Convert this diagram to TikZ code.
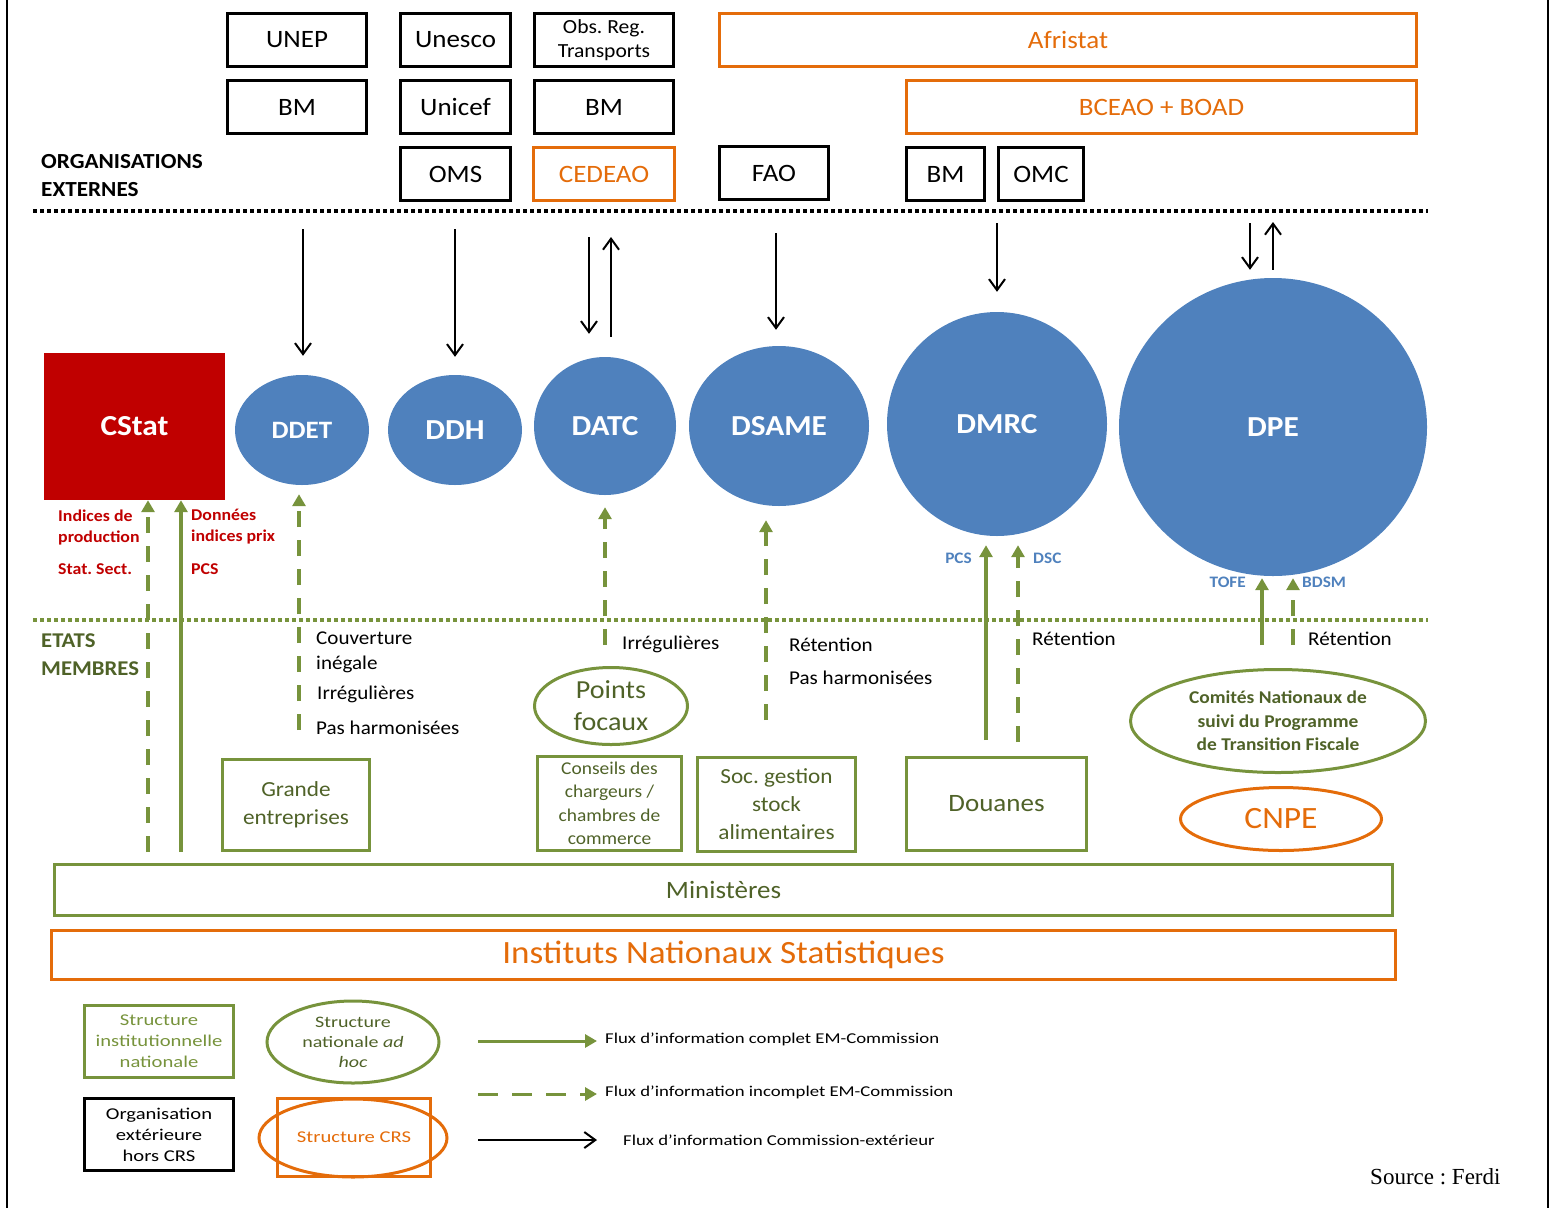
\documentclass[tikz,border=0pt]{standalone}
\usepackage{fontspec}
\setmainfont{Carlito}[FakeStretch=1.08]
\newfontfamily\legfont{Carlito}[FakeStretch=1.25]
\newfontfamily\sourcefont{Liberation Serif}
\usepackage{tikz}
\usetikzlibrary{shapes,arrows.meta,positioning,calc}
\definecolor{bleu}{HTML}{4F81BD}
\definecolor{rouge}{HTML}{C00000}
\definecolor{crs}{HTML}{E46C0A}
\definecolor{vert}{HTML}{77933C}
\definecolor{vertfonce}{HTML}{4F6228}
\newcommand{\taille}[2]{\fontsize{#1}{#2}\selectfont}

\begin{document}
\frenchspacing
\begin{tikzpicture}[x=1pt,y=-1pt,node distance=11pt,
extorg/.style={
% organisation exterieure: black frame
rectangle, draw=black, line width=3pt, inner sep=0pt,
minimum height=53pt, align=center,
font=\taille{25pt}{28pt}},
crsorg/.style={
% structure CRS: orange frame
extorg, draw=crs, text=crs},
direction/.style={
% directions of the Commission
ellipse, fill=bleu, text=white, inner sep=0pt,
font=\bfseries\taille{29pt}{30pt}},
nationale/.style={
% structure institutionnelle nationale
rectangle, draw=vert, line width=3pt, inner sep=0pt,
text=vertfonce, align=center},
adhoc/.style={
% structure nationale ad hoc
ellipse, draw=vert, line width=3pt, inner sep=0pt,
text=vertfonce, align=center},
etiq/.style={inner sep=0pt, anchor=west, align=left},
flux/.style={line width=2pt, -{Straight Barb[length=11pt,width=16pt]}},
plein/.style={draw=vert, line width=4pt, -{Triangle[length=12pt,width=13pt]}},
partiel/.style={plein, dash pattern=on 16pt off 13pt},
separ/.style={line width=4pt, dash pattern=on 4pt off 3pt}]

\useasboundingbox (0,0) rectangle (1552,1208);
\draw[line width=2pt] (7,0) -- (7,1208);
\draw[line width=2pt] (1548,0) -- (1548,1208);

% organisations externes
\node (unep) [extorg, minimum width=139pt] at (297,40) {UNEP};
\node (bma) [extorg, minimum width=139pt, below=of unep] {BM};
\node (unesco) [extorg, minimum width=110pt] at (455.5,40) {Unesco};
\node (unicef) [extorg, minimum width=110pt, below=of unesco] {Unicef};
\node (oms) [extorg, minimum width=110pt, below=of unicef] {OMS};
\node (obs) [extorg, minimum width=139pt, font=\taille{20pt}{24pt}] at (604,40) {Obs. Reg.\\Transports};
\node (bmb) [extorg, minimum width=139pt, below=of obs] {BM};
\node (cedeao) [crsorg, minimum width=141pt, below=of bmb] {CEDEAO};
\node (afristat) [crsorg, minimum width=697pt] at (1068,40) {Afristat};
\node (bceao) [crsorg, minimum width=510pt] at (1161.5,107) {BCEAO + BOAD};
\node (fao) [extorg, minimum width=109pt] at (774,173) {FAO};
\node (bmc) [extorg, minimum width=78pt] at (945.5,174) {BM};
\node (omc) [extorg, minimum width=85pt] at (1041,174) {OMC};
\node (orgext) [etiq, font=\bfseries\taille{21.5pt}{28pt}] at (41,176) {ORGANISATIONS\\EXTERNES};

\draw[separ] (33,211) -- (1428,211);

% Commission
\node (cstat) [rectangle, fill=rouge, text=white, font=\bfseries\taille{29pt}{30pt},
  minimum width=181pt, minimum height=147pt] at (134.5,426.5) {CStat};
\node (ddet) [direction, font=\bfseries\taille{25pt}{30pt}, minimum width=134pt, minimum height=110pt] at (302,430) {DDET};
\node (ddh) [direction, minimum width=134pt, minimum height=110pt] at (455,430) {DDH};
\node (datc) [direction, minimum width=142pt, minimum height=138pt] at (605,426) {DATC};
\node (dsame) [direction, minimum width=180pt, minimum height=160pt] at (779,426) {DSAME};
\node (dmrc) [direction, minimum width=220pt, minimum height=224pt] at (997,424) {DMRC};
\node (dpe) [direction, minimum width=308pt, minimum height=298pt] at (1273,427) {DPE};

\coordinate (e1) at (303,229);
\coordinate (e2) at (455,229);
\coordinate (e3) at (589,237);
\coordinate (e4) at (611,237);
\coordinate (e5) at (776,233);
\coordinate (e6) at (997,223);
\coordinate (e7) at (1250,223);
\coordinate (e8) at (1273,222);
\draw[flux, shorten >=19pt] (e1) -- (e1 |- ddet.north);
\draw[flux, shorten >=18pt] (e2) -- (e2 |- ddh.north);
\draw[flux, shorten >=23pt] (e3) -- (e3 |- datc.north);
\draw[flux, shorten <=20pt] (e4 |- datc.north) -- (e4);
\draw[flux, shorten >=16pt] (e5) -- (e5 |- dsame.north);
\draw[flux, shorten >=20pt] (e6) -- (e6 |- dmrc.north);
\draw[flux, shorten >=8pt] (e7) -- (e7 |- dpe.north);
\draw[flux, shorten <=8pt] (e8 |- dpe.north) -- (e8);

\draw[separ, vert] (33,620) -- (1428,620);

% Etats membres
\node (em) [etiq, text=vertfonce, font=\bfseries\taille{21pt}{28pt}] at (41,655) {ETATS\\MEMBRES};

\node (points) [adhoc, minimum width=153pt, minimum height=77pt, font=\taille{26pt}{32pt}] at (611,706) {Points\\focaux};
\node (grande) [nationale, minimum width=147pt, minimum height=91pt, font=\taille{21.5pt}{28pt}] at (296,805) {Grande\\entreprises};
\node (conseils) [nationale, minimum width=144pt, minimum height=94pt, font=\taille{18pt}{23.5pt}] at (609.5,803.5) {Conseils des\\chargeurs /\\chambres de\\commerce};
\node (soc) [nationale, minimum width=158pt, minimum height=94pt, font=\taille{21.5pt}{28pt}] at (776.5,804) {Soc. gestion\\stock\\alimentaires};
\node (douanes) [nationale, minimum width=180pt, minimum height=93pt, font=\taille{25pt}{30pt}] at (996.5,804) {Douanes};
\node (comites) [adhoc, minimum width=295pt, minimum height=103pt, font=\bfseries\taille{18pt}{23.5pt}] at (1278,721) {Comités Nationaux de\\suivi du Programme\\de Transition Fiscale};
\node (cnpe) [ellipse, draw=crs, line width=3pt, text=crs, minimum width=201pt, minimum height=63pt, font=\taille{31pt}{34pt}] at (1281,819) {CNPE};
\node (minist) [nationale, minimum width=1338pt, minimum height=51pt, font=\taille{25pt}{28pt}] at (723.5,890) {Ministères};
\node (ins) [crsorg, minimum width=1344pt, minimum height=49pt, font=\taille{32.5pt}{34pt}] at (723.5,955) {Instituts Nationaux Statistiques};

% flux EM-Commission
\coordinate (v1) at (148,852);
\coordinate (v2) at (181,852);
\coordinate (v3) at (299,730);
\coordinate (v4) at (605,645);
\coordinate (v5) at (766,720);
\coordinate (v6) at (986,740);
\coordinate (v7) at (1018,742);
\coordinate (v8) at (1262,645);
\coordinate (v9) at (1293,645);
\draw[partiel] (v1) -- (v1 |- cstat.south);
\draw[plein] (v2) -- (v2 |- cstat.south);
\draw[partiel, shorten >=9pt] (v3) -- (v3 |- ddet.south);
\draw[partiel, shorten >=12pt] (v4) -- (v4 |- datc.south);
\draw[partiel, shorten >=14pt] (v5) -- (v5 |- dsame.south);
\draw[plein, shorten >=9pt] (v6) -- (v6 |- dmrc.south);
\draw[partiel, shorten >=9pt] (v7) -- (v7 |- dmrc.south);
\draw[plein, shorten >=2pt] (v8) -- (v8 |- dpe.south);
\draw[partiel, shorten >=2pt] (v9) -- (v9 |- dpe.south);

% labels
\node (ind) [etiq, text=rouge, font=\bfseries\taille{16.5pt}{21pt}] at (58,527) {Indices de\\production};
\node (sect) [etiq, text=rouge, font=\bfseries\taille{16.5pt}{21pt}] at (58,569) {Stat. Sect.};
\node (don) [etiq, text=rouge, font=\bfseries\taille{16.5pt}{21pt}] at (191,527) {Données\\indices prix};
\node (pcsa) [etiq, text=rouge, font=\bfseries\taille{16.5pt}{21pt}] at (191,569) {PCS};
\node (pcsb) [etiq, anchor=east, text=bleu, font=\bfseries\taille{16pt}{18pt}] at (972,558) {PCS};
\node (dsc) [etiq, text=bleu, font=\bfseries\taille{16pt}{18pt}] at (1033,558) {DSC};
\node (tofe) [etiq, anchor=east, text=bleu, font=\bfseries\taille{16pt}{18pt}] at (1246,582) {TOFE};
\node (bdsm) [etiq, text=bleu, font=\bfseries\taille{16pt}{18pt}] at (1302,582) {BDSM};

\node (couv) [etiq, font=\taille{19.5pt}{25pt}] at (316,652) {Couverture\\inégale};
\node (irra) [etiq, font=\taille{19.5pt}{25pt}] at (317,694) {Irrégulières};
\node (pasa) [etiq, font=\taille{19.5pt}{25pt}] at (316,728) {Pas harmonisées};
\node (irrb) [etiq, font=\taille{19.5pt}{25pt}] at (622,644) {Irrégulières};
\node (reta) [etiq, font=\taille{19.5pt}{25pt}] at (789,645) {Rétention};
\node (pasb) [etiq, font=\taille{19.5pt}{25pt}] at (789,678) {Pas harmonisées};
\node (retb) [etiq, font=\taille{19.5pt}{25pt}] at (1032,639) {Rétention};
\node (retc) [etiq, font=\taille{19.5pt}{25pt}] at (1308,639) {Rétention};

% legende
\node (lega) [nationale, text=vert, minimum width=149pt, minimum height=72pt, font=\legfont\taille{16.5pt}{21pt}] at (159,1041.5) {Structure\\institutionnelle\\nationale};
\node (legb) [adhoc, text=vertfonce, minimum width=172pt, minimum height=82pt, font=\legfont\taille{16pt}{20pt}] at (353,1042) {Structure\\nationale \textit{ad}\\\textit{hoc}};
\node (legc) [extorg, minimum width=149pt, minimum height=72pt, font=\legfont\taille{16.5pt}{21pt}] at (159,1134.5) {Organisation\\extérieure\\hors CRS};
\node (legd) [crsorg, minimum width=153pt, minimum height=78pt, font=\legfont\taille{16.5pt}{20pt}] at (354,1137.5) {Structure CRS};
\node (lege) [ellipse, draw=crs, line width=3pt, minimum width=188pt, minimum height=78pt] at (353,1138) {};

\node (fa) [etiq, font=\legfont\taille{15pt}{18pt}] at (605,1039) {Flux d’information complet EM-Commission};
\node (fb) [etiq, font=\legfont\taille{15pt}{18pt}] at (605,1092) {Flux d’information incomplet EM-Commission};
\node (fc) [etiq, font=\legfont\taille{15pt}{18pt}] at (623,1140) {Flux d’information Commission-extérieur};
\coordinate (la) at (478,1041);
\coordinate (lb) at (478,1094);
\coordinate (lc) at (478,1140);
\draw[plein, line width=3pt, shorten >=8pt] (la) -- (la -| fa.west);
\draw[plein, line width=3pt, dash pattern=on 20pt off 14pt, shorten >=8pt] (lb) -- (lb -| fb.west);
\draw[flux, shorten >=26pt] (lc) -- (lc -| fc.west);

\node (source) [etiq, font=\sourcefont\taille{23pt}{24pt}] at (1370,1177) {Source : Ferdi};
\end{tikzpicture}
\end{document}
